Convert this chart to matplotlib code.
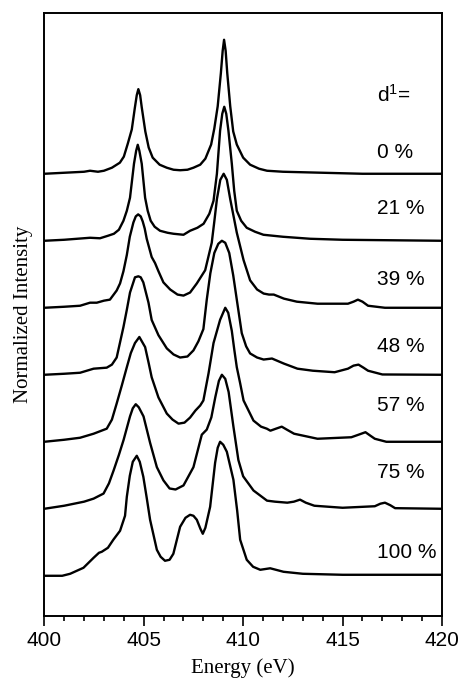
import numpy as np
import matplotlib.pyplot as plt

# energy (eV) and intensity (arbitrary units)
e_0 = [400.0, 401.0, 402.0, 402.3, 402.7, 403.0, 403.4, 403.8, 404.0, 404.2, 404.4, 404.55, 404.65, 404.73,
       404.82, 404.9, 405.08, 405.25, 405.45, 405.8, 406.16, 406.5, 406.83, 407.2, 407.5, 407.84, 408.1,
       408.39, 408.55, 408.72, 408.88, 408.97, 409.04, 409.12, 409.2, 409.35, 409.5, 409.68, 410.0, 410.35,
       410.8, 411.2, 412.0, 414.0, 416.0, 420.0]
i_0 = [0, 1, 2, 3, 2, 3, 6, 11, 17, 30, 44, 65, 78, 84, 78, 66, 42, 26, 16, 9, 6, 4, 3.5, 4, 6, 9, 15,
       29, 45, 67, 100, 122, 133, 122, 100, 67, 42, 29, 16, 9, 5, 3, 2, 1, 0, 0]

e_21 = [400.0, 401.0, 402.3, 402.8, 403.2, 403.5, 403.75, 403.98, 404.15, 404.31, 404.51, 404.62, 404.70,
        404.78, 404.9, 405.07, 405.2, 405.35, 405.55, 405.82, 406.2, 406.5, 407.0, 407.33, 407.7, 408.01,
        408.3, 408.51, 408.68, 408.84, 408.95, 409.05, 409.15, 409.26, 409.43, 409.55, 409.68, 409.9, 410.18,
        410.6, 411.02, 412.0, 413.37, 415.0, 420.0]
i_21 = [0, 1, 3, 2.5, 5, 7, 11, 20, 30, 43, 77, 90, 96, 90, 77, 43, 30, 20, 14, 10, 8, 7, 6, 10, 13, 17,
        27, 40, 67, 110, 127, 134, 127, 110, 77, 50, 30, 20, 13, 9, 6, 4, 2, 1, 0]

e_39 = [400.0, 401.0, 401.8, 402.3, 402.64, 403.0, 403.3, 403.64, 403.81, 403.98, 404.15, 404.3, 404.48,
        404.6, 404.72, 404.85, 404.95, 405.05, 405.15, 405.4, 405.57, 405.74, 405.99, 406.33, 406.7, 407.0,
        407.33, 407.67, 408.09, 408.42, 408.55, 408.68, 408.85, 409.02, 409.18, 409.35, 409.68, 410.02,
        410.35, 410.7, 411.03, 411.3, 411.54, 412.05, 412.7, 413.74, 415.27, 415.55, 415.77, 416.0, 416.28,
        417.13, 420.0]
i_39 = [0, 1, 2, 5, 5, 7, 8, 17, 24, 36, 52, 70, 84, 90, 92, 90, 85, 78, 68, 50, 44, 36, 25, 18, 13, 12,
        15, 24, 37, 64, 85, 107, 126, 132, 126, 107, 74, 47, 27, 18, 14, 13, 13, 9, 6, 4, 4, 6, 8, 6, 2, 0, 0]

e_48 = [400.0, 401.0, 401.8, 402.48, 403.14, 403.4, 403.64, 403.98, 404.15, 404.31, 404.56, 404.73, 404.85,
        404.98, 405.24, 405.4, 405.74, 406.16, 406.5, 406.83, 407.2, 407.5, 407.75, 408.0, 408.17, 408.35,
        408.55, 408.75, 408.93, 409.1, 409.3, 409.5, 409.68, 409.93, 410.15, 410.35, 410.7, 411.03, 411.45,
        412.05, 412.73, 413.5, 414.6, 415.27, 415.55, 415.8, 416.05, 416.28, 417.0, 420.0]
i_48 = [0, 1, 2, 6, 7, 10, 17, 47, 64, 81, 96, 97, 96, 91, 71, 54, 39, 26, 20, 17, 18, 24, 33, 45, 74,
        100, 120, 129, 132, 130, 120, 98, 74, 41, 28, 21, 17, 15, 16, 11, 6, 4, 2.5, 6, 9, 10, 7, 4, 0.3, 0]

e_57 = [400.0, 401.0, 401.8, 402.48, 403.14, 403.4, 403.64, 403.9, 404.15, 404.35, 404.56, 404.78, 405.07,
        405.25, 405.4, 405.74, 406.16, 406.45, 406.75, 407.05, 407.33, 407.6, 407.84, 408.0, 408.26, 408.51,
        408.84, 409.1, 409.25, 409.43, 409.55, 409.68, 409.85, 410.02, 410.52, 410.9, 411.19, 411.37, 411.65,
        411.94, 412.2, 412.56, 413.74, 415.44, 415.8, 416.15, 416.4, 416.62, 417.2, 420.0]
i_57 = [0, 2, 4, 8, 13, 22, 38, 56, 74, 88, 98, 104, 94, 78, 64, 44, 28, 22, 18, 19, 24, 31, 36, 41, 68,
        98, 121, 133, 128, 110, 92, 74, 58, 41, 21, 15, 13, 11, 13, 15, 12, 8, 3, 4.5, 7, 9.5, 6, 3, 0, 0]

e_75 = [400.0, 401.0, 402.0, 402.48, 402.98, 403.25, 403.49, 403.75, 403.99, 404.31, 404.45, 404.6, 404.75,
        404.99, 405.32, 405.66, 405.99, 406.3, 406.6, 407.0, 407.5, 407.92, 408.17, 408.4, 408.6, 408.78,
        408.93, 409.1, 409.27, 409.51, 409.76, 410.0, 410.52, 411.2, 411.6, 412.22, 412.55, 412.86, 413.15,
        413.58, 415.0, 416.62, 416.9, 417.13, 417.4, 417.64, 420.0]
i_75 = [0, 3, 7, 10, 15, 25, 38, 53, 68, 91, 99, 103, 100, 91, 65, 41, 28, 20, 19, 23, 41, 73, 78, 90, 110,
        126, 132, 128, 115, 81, 48, 32, 18, 8, 7, 6, 7, 9, 6, 3, 1, 2.5, 5, 6, 3.5, 0.6, 0]

e_100 = [400.0, 400.9, 401.3, 401.97, 402.48, 402.75, 402.89, 403.2, 403.47, 403.81, 404.06, 404.15, 404.3,
         404.45, 404.65, 404.8, 404.98, 405.15, 405.32, 405.66, 405.85, 406.07, 406.3, 406.49, 406.83, 407.1,
         407.33, 407.5, 407.67, 407.85, 407.97, 408.1, 408.34, 408.59, 408.72, 408.84, 409.0, 409.18, 409.51,
         409.7, 409.85, 410.18, 410.5, 410.86, 411.36, 412.03, 413.0, 415.0, 420.0]
i_100 = [0, 0, 2, 8, 18, 23, 24, 28, 36, 45, 60, 79, 100, 114, 120, 114, 99, 78, 56, 26, 19, 15, 16, 22,
         49, 58, 61, 60, 56, 47, 42, 48, 69, 113, 128, 134, 131, 124, 96, 65, 36, 16, 9, 6, 7.5, 4, 2, 1, 1]

energies = [e_0, e_21, e_39, e_48, e_57, e_75, e_100]
intens = [i_0, i_21, i_39, i_48, i_57, i_75, i_100]
labels = ['0 %', '21 %', '39 %', '48 %', '57 %', '75 %', '100 %']
offsets = [3.3, 2.8, 2.3, 1.8, 1.3, 0.8, 0.3]
label_y = [3.46, 3.04, 2.51, 2.01, 1.57, 1.07, 0.47]

plt.rcParams['font.family'] = ['Liberation Sans', 'DejaVu Sans']
plt.rcParams['mathtext.fontset'] = 'custom'
plt.rcParams['mathtext.rm'] = 'Liberation Sans'
plt.rcParams['mathtext.default'] = 'regular'

fig = plt.figure(figsize=(4.59, 6.82), dpi=100)
ax = fig.add_axes([0.0965, 0.0968, 0.8665, 0.8842])

for e, i, off in zip(energies, intens, offsets):
    i = np.array(i, dtype=float)
    ax.plot(e, i / i.max() + off, color='black', lw=1.7,
            solid_joinstyle='round', solid_capstyle='round')

for lab, y in zip(labels, label_y):
    ax.text(416.75, y, lab, fontsize=15, va='center', ha='left')
ax.text(416.75, 3.89, r'd$^{1}$=', fontsize=15, va='center', ha='left')

ax.set_xlim(400, 420)
ax.set_ylim(0, 4.5)
ax.set_xticks(range(400, 421, 5))
ax.set_xticks(range(400, 421), minor=True)
ax.set_yticks([])
ax.tick_params(axis='x', which='major', length=7, width=1.2, labelsize=15, pad=4)
ax.tick_params(axis='x', which='minor', length=3.5, width=1.2)
for s in ax.spines.values():
    s.set_linewidth(1.4)

ax.set_xlabel('Energy (eV)', fontsize=15, family='Liberation Serif', labelpad=6)
ax.set_ylabel('Normalized Intensity', fontsize=15, family='Liberation Serif', labelpad=8)

fig.savefig('out.png', dpi=100)
